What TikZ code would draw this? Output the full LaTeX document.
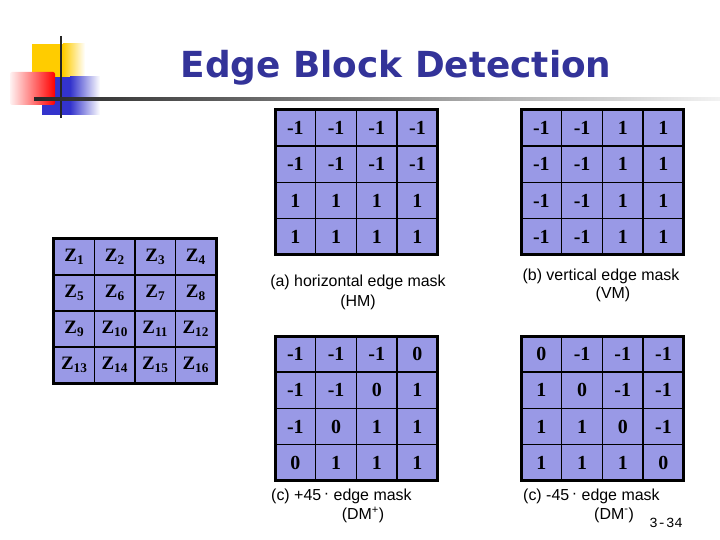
\documentclass[tikz,border=0pt]{standalone}
\usepackage{fontspec}
\setmainfont{Liberation Serif}
\setsansfont{Liberation Sans}
\setmonofont{Liberation Mono}
\newfontfamily\titlefont{DejaVu Sans}
\usepackage{xcolor}
\usetikzlibrary{positioning}

\definecolor{cellblue}{RGB}{153,153,230}
\definecolor{titleblue}{RGB}{51,51,153}
\definecolor{decoyellow}{RGB}{255,204,0}
\definecolor{decoblue}{RGB}{51,51,204}

% 4x4 mask: name, left x, top y, rows
\newcommand{\edgemask}[4]{%
    \foreach \row [count=\r] in {#4} {
        \foreach \val [count=\c] in \row {
            \node[cell] (#1-\r-\c) at ({#2+(\c-0.5)*40.7},{#3+(\r-0.5)*36.2}) {\val};
        }
    }
    \draw[frame] (#1-1-1.north west) rectangle (#1-4-4.south east);
}
\newcommand{\degdot}{\raisebox{0.12em}{·}}

\begin{document}
\begin{tikzpicture}[x=1bp, y=-1bp,
    cell/.style={draw=black, line width=1.5bp, fill=cellblue, minimum width=40.7bp,
        minimum height=36.2bp, inner sep=0pt, outer sep=0pt,
        font=\fontsize{20}{20}\selectfont\bfseries},
    zcell/.style={font=\fontsize{19}{19}\selectfont\bfseries},
    frame/.style={draw=black, line width=3bp},
    caption/.style={font=\sffamily\fontsize{16}{16}\selectfont, inner sep=0pt}]
    \useasboundingbox (0,0) rectangle (720,540);

    % Corner decoration
    \fill[decoyellow] (32,44) rectangle (63,77);
    \shade[left color=decoyellow, right color=white] (63,44) rectangle (85,77);
    \fill[decoblue] (42,77) rectangle (70,115);
    \shade[left color=decoblue, right color=white] (70,77) rectangle (100,115);
    \shade[left color=red!5, right color=red, rounded corners=2bp] (10,72) rectangle (55,105);
    \draw[line width=2.5bp, black!85] (61,36) -- (61,118);
    \shade[left color=black!85, right color=black!5] (34,98) rectangle (720,100.5);

    % Title
    \node[font=\titlefont\bfseries\fontsize{36}{36}\selectfont, text=titleblue, anchor=base]
        (title) at (396,78) {Edge Block Detection};

    % Pixel block
    \foreach \r in {1,...,4} {
        \foreach \c in {1,...,4} {
            \pgfmathtruncatemacro{\k}{(\r-1)*4+\c}
            \node[cell, zcell] (z-\r-\c) at ({54+(\c-0.5)*40.5},{239+(\r-0.5)*36}) {Z\textsubscript{\k}};
        }
    }
    \draw[frame] (z-1-1.north west) rectangle (z-4-4.south east);

    % Masks
    \edgemask{hm}{275}{110}{{-1,-1,-1,-1},{-1,-1,-1,-1},{1,1,1,1},{1,1,1,1}}
    \edgemask{vm}{521}{110}{{-1,-1,1,1},{-1,-1,1,1},{-1,-1,1,1},{-1,-1,1,1}}
    \edgemask{dp}{275}{336}{{-1,-1,-1,0},{-1,-1,0,1},{-1,0,1,1},{0,1,1,1}}
    \edgemask{dm}{521}{336}{{0,-1,-1,-1},{1,0,-1,-1},{1,1,0,-1},{1,1,1,0}}

    % Captions
    \node[caption] (hm-cap1) at (358,282) {(a) horizontal edge mask};
    \node[caption] (hm-cap2) at (358,302) {(HM)};
    \node[caption] (vm-cap1) at (601,276) {(b) vertical edge mask};
    \node[caption] (vm-cap2) at (613,294) {(VM)};
    \node[caption, anchor=west] (dp-cap1) at (271,496) {(c) +45\,\degdot\ edge mask};
    \node[caption] (dp-cap2) at (363,515) {(DM\textsuperscript{+})};
    \node[caption, anchor=west] (dm-cap1) at (523,496) {(c) -45\,\degdot\ edge mask};
    \node[caption] (dm-cap2) at (614,515) {(DM\textsuperscript{-})};
    \node[font=\ttfamily\fontsize{14}{14}\selectfont, inner sep=0pt] (pagenum) at (666,523) {3-34};
\end{tikzpicture}
\end{document}
